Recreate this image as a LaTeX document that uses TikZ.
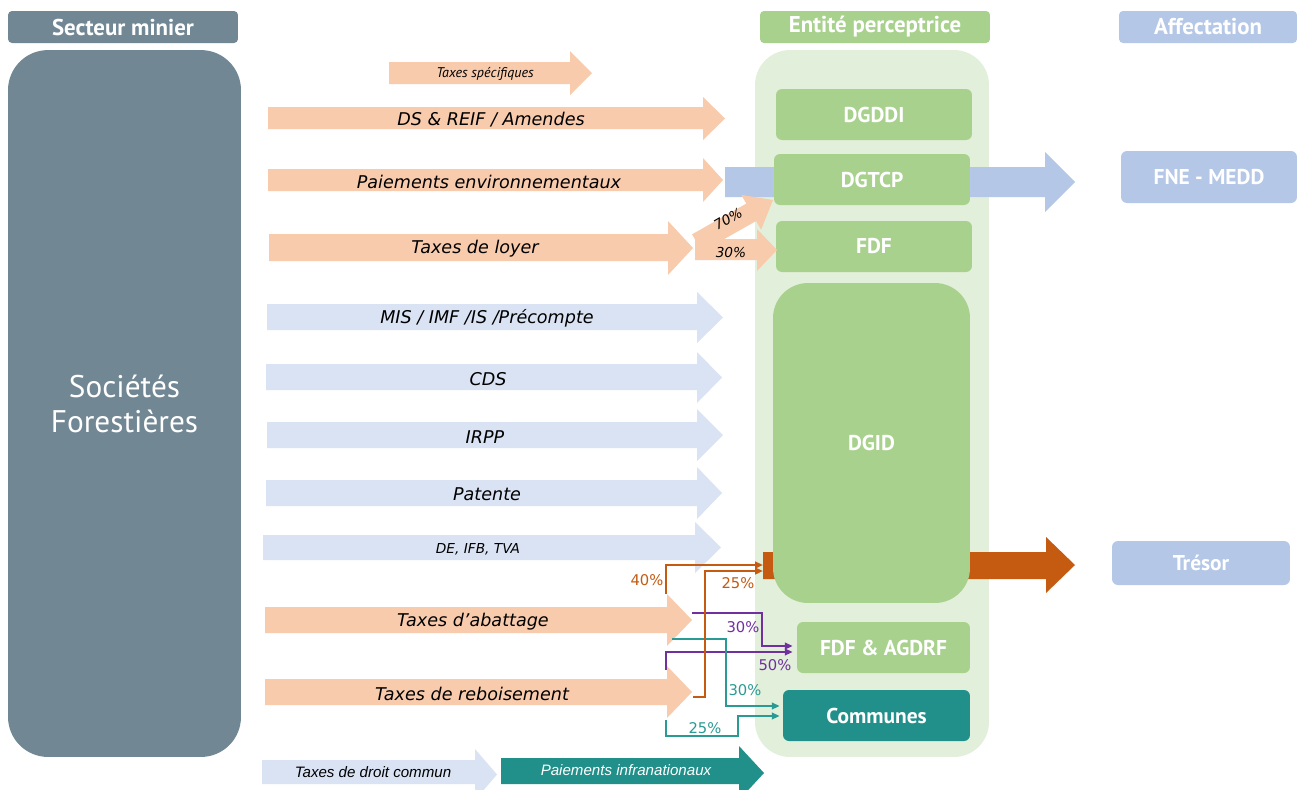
\documentclass[tikz,border=0pt]{standalone}
\usepackage{fontspec}
\setmainfont{DejaVu Sans}
\newfontfamily\ptsans{PT Sans}
\newfontfamily\libsans{Liberation Sans}
\usetikzlibrary{arrows.meta}
\definecolor{slate}{HTML}{718794}
\definecolor{peach}{HTML}{F8CBAD}
\definecolor{lblue}{HTML}{DAE3F3}
\definecolor{mblue}{HTML}{B4C7E7}
\definecolor{green1}{HTML}{A9D18E}
\definecolor{panelg}{HTML}{E2EFDA}
\definecolor{tealbox}{HTML}{21908A}
\definecolor{tealln}{HTML}{2A9B94}
\definecolor{dorange}{HTML}{C55A11}
\definecolor{purp}{HTML}{7030A0}
% #1 style, #2 x tail, #3 x head base, #4 x tip, #5 body top, #6 body bottom, #7 head top, #8 head bottom
\newcommand\fatarrow[8]{\fill[#1] (#2,#5) -- (#3,#5) -- (#3,#7) -- (#4,{(#7+#8)/2}) -- (#3,#8) -- (#3,#6) -- (#2,#6) -- cycle;}
\begin{document}
\begin{tikzpicture}[x=0.02cm,y=-0.02cm,
  box/.style={fill=green1, rounded corners=0.12cm, text=white, inner sep=0pt, draw=none,
    font=\ptsans\bfseries\fontsize{12.2}{14}\selectfont},
  hdr/.style={rounded corners=0.08cm, text=white, inner sep=0pt, draw=none,
    font=\ptsans\bfseries\fontsize{13}{15}\selectfont},
  lbl/.style={font=\itshape\fontsize{10}{12}\selectfont, text=black, inner sep=0pt, yshift=-1pt},
  small/.style={font=\itshape\fontsize{7.8}{9}\selectfont, text=black, inner sep=0pt},
  pct/.style={font=\fontsize{8.4}{10}\selectfont, inner sep=0pt},
  conn/.style={line width=1.1pt, -{Triangle[length=4.5pt,width=3.8pt]}}]
\useasboundingbox (0,0) rectangle (1299,789);
\clip (0,0) rectangle (1299,789);
\fill[white] (0,0) rectangle (1299,789);

% headers
\node[hdr, fill=slate, minimum width=4.6cm, minimum height=0.64cm] (h1) at (123,27) {\raisebox{-0.8pt}{Secteur minier}};
\node[hdr, fill=green1, minimum width=4.6cm, minimum height=0.64cm] (h2) at (875,27) {\raisebox{-0.8pt}{Entité perceptrice}};
\node[hdr, fill=mblue, minimum width=3.56cm, minimum height=0.64cm] (h3) at (1208,27) {\raisebox{-0.8pt}{Affectation}};

% sector
\node[fill=slate, rounded corners=0.8cm, minimum width=4.66cm, minimum height=14.14cm, inner sep=0pt,
  text=white, align=center, font=\ptsans\fontsize{17.8}{20}\selectfont] (soc) at (124.5,403.5)
  {Sociétés\\Forestières};

% panel
\node[fill=panelg, rounded corners=0.7cm, minimum width=4.68cm, minimum height=14.14cm, inner sep=0pt] (panel) at (872,403.5) {};

% wide arrows behind boxes
\fatarrow{mblue}{725}{1045}{1075}{167}{197}{152}{212}
\fatarrow{dorange}{763}{1046}{1075}{552}{579}{537}{593}

% boxes
\node[box, minimum width=3.92cm, minimum height=1.02cm] (dgddi) at (874,114.5) {\raisebox{-1pt}{DGDDI}};
\node[box, minimum width=3.92cm, minimum height=1.02cm] (dgtcp) at (872,179.5) {\raisebox{-1pt}{DGTCP}};
\node[box, minimum width=3.92cm, minimum height=1.02cm] (fdf) at (874,246.5) {\raisebox{-1pt}{FDF}};
\node[box, rounded corners=0.7cm, minimum width=3.94cm, minimum height=6.4cm] (dgid) at (871.5,443) {DGID};
\node[box, minimum width=3.46cm, minimum height=1.02cm] (fdfag) at (883.5,647.5) {FDF \& AGDRF};
\node[box, fill=tealbox, minimum width=3.74cm, minimum height=1.02cm] (communes) at (876.5,715.5) {Communes};
\node[box, fill=mblue, minimum width=3.52cm, minimum height=1.04cm] (fne) at (1209,177) {FNE - MEDD};
\node[box, fill=mblue, minimum width=3.56cm, minimum height=0.88cm] (tresor) at (1201,563) {Trésor};

% left arrows
\fatarrow{peach}{389}{570}{592}{62}{84}{51}{95}
\node[font=\ptsans\itshape\fontsize{8}{9}\selectfont, inner sep=0pt] (tspec) at (485,74) {Taxes spécifiques};

\fatarrow{peach}{268}{703}{725}{107}{129}{97}{140}
\node[lbl] (tds) at (491,118) {DS \& REIF / Amendes};
\fatarrow{peach}{268}{703}{723}{169}{191}{158}{202}
\node[lbl] (tpe) at (489,180) {Paiements environnementaux};
\fatarrow{peach}{269}{668}{693}{234}{261}{221}{275}
\node[lbl] (tloy) at (475,247) {Taxes de loyer};

\fatarrow{lblue}{267}{697}{723}{304}{330}{292}{343}
\node[lbl] (tmis) at (487,317) {MIS / IMF /IS /Précompte};
\fatarrow{lblue}{266}{697}{722}{364}{390}{352}{403}
\node[lbl] (tcds) at (488,377) {CDS};
\fatarrow{lblue}{267}{697}{723}{422}{448}{409}{461}
\node[lbl] (tirpp) at (485,435) {IRPP};
\fatarrow{lblue}{266}{697}{722}{480}{506}{467}{519}
\node[lbl] (tpat) at (487,492) {Patente};
\fatarrow{lblue}{263}{695}{721}{535}{560}{522}{573}
\node[small] (tde) at (478,549) {DE, IFB, TVA};

\fatarrow{peach}{265}{667}{692}{607}{633}{594}{646}
\node[lbl] (tab) at (473,620) {Taxes d’abattage};
\fatarrow{peach}{265}{667}{692}{679}{705}{666}{718}
\node[lbl] (treb) at (472,692) {Taxes de reboisement};

% split 70 / 30
\fill[peach] (692.1,234.3) -- (746.3,203.6) -- (741.3,194.9) -- (773,200) -- (761.1,229.7) -- (756.1,221.0) -- (701.9,251.7) -- cycle;
\fatarrow{peach}{695}{757}{777}{239}{260}{229}{271}
\node[small, rotate=30] (p70) at (728,219) {70\%};
\node[small] (p30) at (731,253) {30\%};

% legend
\fatarrow{lblue}{262}{475}{497}{760}{784}{749}{800}
\node[font=\libsans\itshape\fontsize{8.6}{10}\selectfont, inner sep=0pt] (leg1) at (373,772) {Taxes de droit commun};
\fatarrow{tealbox}{501}{739}{764}{758}{784}{746}{800}
\node[font=\libsans\itshape\fontsize{8.6}{10}\selectfont, text=white, inner sep=0pt] (leg2) at (626,770) {Paiements infranationaux};

% connector endpoints
\coordinate (sO40) at (666,594);
\coordinate (sO25) at (693,697);
\coordinate (sP30) at (692,613);
\coordinate (sP50) at (666,670);
\coordinate (sT30) at (672,639);
\coordinate (sT25) at (666,720);
\coordinate (eO40) at (763,565);
\coordinate (eO25) at (763,571);
\coordinate (eP30) at ([xshift=-0.08cm]fdfag.west |- 0,646);
\coordinate (eP50) at ([xshift=-0.08cm]fdfag.west |- 0,652);
\coordinate (eT30) at ([xshift=-0.06cm]communes.west |- 0,706);
\coordinate (eT25) at ([xshift=-0.06cm]communes.west |- 0,716);

% purple
\draw[conn, purp] (sP30) -| (762,646) -- (eP30);
\draw[conn, purp] (sP50) |- (eP50);
\node[pct, text=purp] (l30p) at (743,627) {30\%};
\node[pct, text=purp] (l50p) at (775,665) {50\%};
% teal
\draw[conn, tealln] (sT30) -| (726,706) -- (eT30);
\draw[conn, tealln] (sT25) |- (738,736) |- (eT25);
\node[pct, text=tealln] (l30t) at (745,690) {30\%};
\node[pct, text=tealln] (l25t) at (705,728) {25\%};
% orange
\draw[conn, dorange] (sO40) |- (eO40);
\draw[conn, dorange] (sO25) -| (705,571) -- (eO25);
\node[pct, text=dorange] (l40) at (647,580) {40\%};
\node[pct, text=dorange] (l25) at (738,583) {25\%};
\end{tikzpicture}
\end{document}
